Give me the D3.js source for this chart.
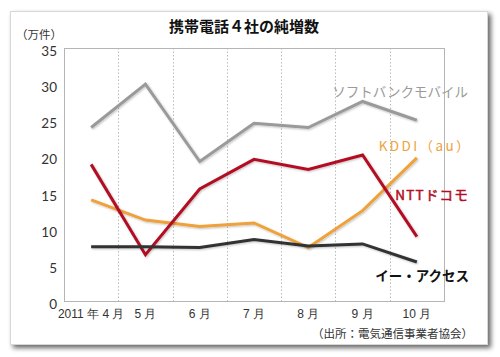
<!DOCTYPE html>
<html><head><meta charset="utf-8">
<script src="https://cdn.jsdelivr.net/npm/d3@7"></script>
<style>body{margin:0;background:#fff;}svg{display:block;font-family:"Noto Sans CJK JP","Noto Sans",sans-serif;}</style>
</head><body><svg id="c" width="500" height="357"></svg>
<script>
const months = ["4月","5月","6月","7月","8月","9月","10月"];
const monthLabels = ["2011 年 4 月","5 月","6 月","7 月","8 月","9 月","10 月"];
const yTicks = [0,5,10,15,20,25,30,35];
const softbank = [24.0, 30.0, 19.3, 24.6, 24.0, 27.6, 25.0];
const kddi = [14.0, 11.2, 10.3, 10.8, 7.4, 12.5, 19.8];
const ntt = [18.9, 6.4, 15.5, 19.6, 18.2, 20.2, 8.9];
const eaccess = [7.5, 7.5, 7.4, 8.5, 7.6, 7.9, 5.4];
const seriesNames = ["ソフトバンクモバイル","KDDI（au）","NTTドコモ","イー・アクセス"];
const seriesColors = ["#9a9a9a","#efa13a","#b20f24","#333333"];
const title = "携帯電話４社の純増数";
const unit = "（万件）";
const source = "（出所：電気通信事業者協会）";

const svg = d3.select("#c");
const defs = svg.append("defs");
const f = defs.append("filter").attr("id","sh").attr("x","-20%").attr("y","-20%").attr("width","140%").attr("height","140%");
f.append("feGaussianBlur").attr("in","SourceAlpha").attr("stdDeviation",2.5);
f.append("feOffset").attr("dx",3).attr("dy",3).attr("result","b");
f.append("feComponentTransfer").append("feFuncA").attr("type","linear").attr("slope",0.6);
const m = f.append("feMerge"); m.append("feMergeNode"); m.append("feMergeNode").attr("in","SourceGraphic");
const lf = defs.append("filter").attr("id","ls").attr("x","-10%").attr("y","-10%").attr("width","120%").attr("height","120%");
lf.append("feGaussianBlur").attr("in","SourceAlpha").attr("stdDeviation",1);
lf.append("feOffset").attr("dx",0.5).attr("dy",1);
lf.append("feComponentTransfer").append("feFuncA").attr("type","linear").attr("slope",0.25);
const lm = lf.append("feMerge"); lm.append("feMergeNode"); lm.append("feMergeNode").attr("in","SourceGraphic");

// card
svg.append("rect").attr("x",10.5).attr("y",11.5).attr("width",477).attr("height",333)
  .attr("fill","#fff").attr("stroke","#d8d8d8").attr("filter","url(#sh)");

const L=64, R=444, T=48, B=301;
const x = d3.scaleBand().domain(months).range([L,R]);
const y = d3.scaleLinear().domain([0,35]).range([B,T]);

// grid (band boundaries)
const g = svg.append("g");
g.selectAll("line.v").data(months.slice(1)).join("line")
  .attr("x1",d=>Math.round(x(d))+0.5).attr("x2",d=>Math.round(x(d))+0.5)
  .attr("y1",T).attr("y2",B).attr("stroke","#bbb").attr("stroke-dasharray","1.5,2");
g.append("rect").attr("x",L+0.5).attr("y",T+0.5).attr("width",R-L).attr("height",B-T)
  .attr("fill","none").attr("stroke","#b5b5b5");

// y axis
const ya = svg.append("g").attr("transform",`translate(${L},0)`)
  .call(d3.axisLeft(y).tickValues(yTicks).tickSize(0).tickPadding(7));
ya.select(".domain").remove();
ya.selectAll("text").attr("font-size",13.5).attr("fill","#333").attr("dy","0.55em")
  .attr("font-family","Lato,'Noto Sans',sans-serif");

// x axis
const xa = svg.append("g").attr("transform",`translate(0,${B})`)
  .call(d3.axisBottom(x).tickSize(0).tickPadding(8).tickFormat((d,i)=>monthLabels[i]));
xa.select(".domain").remove();
xa.selectAll("text").attr("font-size",12).attr("fill","#333");

// lines
const data = [softbank,kddi,ntt,eaccess];
const line = d3.line().x((d,i)=>x(months[i])+x.bandwidth()/2).y(d=>y(d));
svg.append("g").selectAll("path").data(data).join("path")
  .attr("d",line).attr("fill","none").attr("stroke",(d,i)=>seriesColors[i])
  .attr("stroke-width",3).attr("stroke-linejoin","miter").attr("filter","url(#ls)");

// series labels
const labs = [
  {t:seriesNames[0], x:468, y:97, c:seriesColors[0], w:"normal", ls:0, fs:13.5, sw:0},
  {t:seriesNames[1], x:472, y:151, c:seriesColors[1], w:"normal", ls:2.4, fs:13.5, sw:0},
  {t:seriesNames[2], x:469, y:200, c:seriesColors[2], w:"normal", ls:1.2, fs:13.5, sw:0.5},
  {t:seriesNames[3], x:469, y:281, c:"#111", w:"bold", ls:0, fs:13.5, sw:0}
];
svg.append("g").selectAll("text").data(labs).join("text")
  .attr("x",d=>d.x).attr("y",d=>d.y).attr("text-anchor","end")
  .attr("fill",d=>d.c).attr("font-weight",d=>d.w).attr("font-size",d=>d.fs)
  .attr("stroke",d=>d.sw?d.c:"none").attr("stroke-width",d=>d.sw)
  .attr("letter-spacing",d=>d.ls).text(d=>d.t);

svg.append("text").attr("x",244).attr("y",32).attr("text-anchor","middle")
  .attr("font-size",15).attr("font-weight","bold").attr("fill","#111").text(title);
svg.append("text").attr("x",62).attr("y",39).attr("text-anchor","end")
  .attr("font-size",11.5).attr("fill","#333").text(unit);
svg.append("text").attr("x",473).attr("y",338).attr("text-anchor","end")
  .attr("font-size",11.5).attr("fill","#333").text(source);
</script></body></html>
